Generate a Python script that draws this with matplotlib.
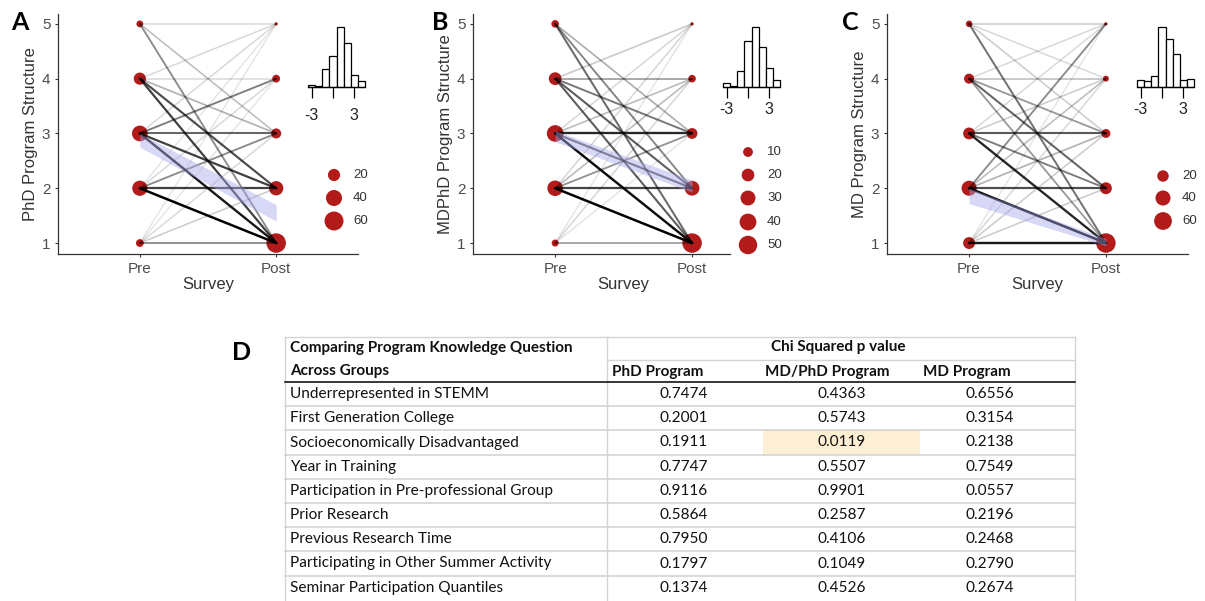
import numpy as np
import matplotlib
matplotlib.use("Agg")
from matplotlib import pyplot as plt

W, H = 1205, 601

# survey answer levels (1-5) and how many students sat on each level
levels = [1, 2, 3, 4, 5]
survey_labels = ["Pre", "Post"]

phd_pre = [6, 35, 38, 20, 4]
phd_post = [64, 30, 12, 6, 1]
mdphd_pre = [4, 33, 39, 20, 5]
mdphd_post = [57, 29, 13, 5, 1]
md_pre = [22, 40, 22, 14, 4]
md_post = [75, 22, 10, 3, 1]

# pre -> post transitions and how many students made each one
phd_from = [5, 5, 5, 4, 4, 4, 4, 4, 3, 3, 3, 3, 3, 2, 2, 2, 2, 2, 1, 1, 1, 1, 1]
phd_to = [5, 3, 1, 5, 4, 3, 2, 1, 5, 4, 3, 2, 1, 5, 4, 3, 2, 1, 5, 4, 3, 2, 1]
phd_n = [3, 5, 9, 3, 3, 6, 14, 15, 3, 10, 12, 15, 18, 2, 3, 9, 15, 20, 2, 2, 3, 4, 9]

mdphd_from = [5, 5, 5, 4, 4, 4, 4, 4, 3, 3, 3, 3, 3, 2, 2, 2, 2, 2, 1, 1, 1, 1]
mdphd_to = [3, 2, 1, 5, 4, 3, 2, 1, 5, 4, 3, 2, 1, 5, 4, 3, 2, 1, 5, 4, 3, 1]
mdphd_n = [6, 9, 11, 4, 7, 10, 12, 12, 3, 5, 16, 12, 18, 3, 5, 8, 14, 19, 2, 3, 2, 7]

md_from = [5, 5, 5, 5, 4, 4, 4, 4, 4, 3, 3, 3, 3, 3, 2, 2, 2, 2, 2, 1, 1, 1, 1, 1]
md_to = [5, 4, 3, 1, 5, 4, 3, 2, 1, 5, 4, 3, 2, 1, 5, 4, 3, 2, 1, 5, 4, 3, 2, 1]
md_n = [4, 3, 4, 11, 3, 5, 8, 12, 8, 3, 4, 13, 10, 17, 9, 5, 6, 14, 20, 2, 3, 4, 4, 18]

# linear fit confidence band (value at Pre, value at Post)
phd_fit_lo = [2.75, 1.40]
phd_fit_hi = [3.00, 1.70]
mdphd_fit_lo = [2.85, 1.93]
mdphd_fit_hi = [3.05, 2.15]
md_fit_lo = [1.72, 0.95]
md_fit_hi = [2.00, 1.08]

# inset histograms of the change scores
diff_bins = [-3, -2, -1, 0, 1, 2, 3, 4]
phd_diff = [2, 1, 15, 26, 51, 37, 10, 5]
mdphd_diff = [3, 1, 14, 39, 51, 34, 16, 6]
md_diff = [6, 5, 9, 51, 41, 28, 6, 7]

phd_breaks = [20, 40, 60]
mdphd_breaks = [10, 20, 30, 40, 50]
md_breaks = [20, 40, 60]

# table D
table_rows = [
    "Underrepresented in STEMM",
    "First Generation College",
    "Socioeconomically Disadvantaged",
    "Year in Training",
    "Participation in Pre-professional Group",
    "Prior Research",
    "Previous Research Time",
    "Participating in Other Summer Activity",
    "Seminar Participation Quantiles",
]
phd_p = [0.7474, 0.2001, 0.1911, 0.7747, 0.9116, 0.5864, 0.7950, 0.1797, 0.1374]
mdphd_p = [0.4363, 0.5743, 0.0119, 0.5507, 0.9901, 0.2587, 0.4106, 0.1049, 0.4526]
md_p = [0.6556, 0.3154, 0.2138, 0.7549, 0.0557, 0.2196, 0.2468, 0.2790, 0.2674]

RED = "#B31B1B"
GG_FONT = ["Liberation Sans", "DejaVu Sans"]
TAB_FONT = ["Lato", "DejaVu Sans"]


def px_box(x0, y0, x1, y1):
    return [x0 / W, 1 - y1 / H, (x1 - x0) / W, (y1 - y0) / H]


def dot_area(counts, cmin, cmax):
    # ggplot-like size scale: diameter grows with sqrt of the rescaled count
    c = np.asarray(counts, dtype=float)
    d_px = 3.25 + 16.25 * np.sqrt(np.clip((c - cmin) / (cmax - cmin), 0, 1))
    return (d_px * 72 / 100) ** 2


fig = plt.figure(figsize=(W / 100, H / 100), dpi=100)
fig.patch.set_facecolor("white")

panels = [
    dict(pre=phd_pre, post=phd_post, t_from=phd_from, t_to=phd_to, t_n=phd_n,
         lo=phd_fit_lo, hi=phd_fit_hi, diff=phd_diff, breaks=phd_breaks,
         ylabel="PhD Program Structure", letter="A",
         ax_px=(58, 14, 358, 254), xmax=1.6, ins_px=(308, 27, 365, 87), ins_pad=7,
         leg_x=334, leg_y=[175, 198, 221], leg_tx=353, let_xy=(20, 22)),
    dict(pre=mdphd_pre, post=mdphd_post, t_from=mdphd_from, t_to=mdphd_to, t_n=mdphd_n,
         lo=mdphd_fit_lo, hi=mdphd_fit_hi, diff=mdphd_diff, breaks=mdphd_breaks,
         ylabel="MDPhD Program Structure", letter="B",
         ax_px=(473, 14, 730, 254), xmax=1.277, ins_px=(723, 27, 780, 87), ins_pad=3,
         leg_x=748, leg_y=[152, 175, 198, 222, 245], leg_tx=767, let_xy=(440, 22)),
    dict(pre=md_pre, post=md_post, t_from=md_from, t_to=md_to, t_n=md_n,
         lo=md_fit_lo, hi=md_fit_hi, diff=md_diff, breaks=md_breaks,
         ylabel="MD Program Structure", letter="C",
         ax_px=(887, 14, 1188, 254), xmax=1.6, ins_px=(1137, 27, 1194, 87), ins_pad=3,
         leg_x=1163, leg_y=[176, 198, 221], leg_tx=1182, let_xy=(850, 22)),
]

overlay_jobs = []
for p in panels:
    ax = fig.add_axes(px_box(*p["ax_px"]))
    ax.set_xlim(-0.6, p["xmax"])
    ax.set_ylim(0.8, 5.18)

    cmin = min(p["pre"] + p["post"])
    cmax = max(p["pre"] + p["post"])

    ax.scatter(np.zeros(len(levels)), levels, s=dot_area(p["pre"], cmin, cmax),
               color=RED, lw=0, zorder=2)
    ax.scatter(np.ones(len(levels)), levels, s=dot_area(p["post"], cmin, cmax),
               color=RED, lw=0, zorder=2)

    nmax = max(p["t_n"])
    for f, t, n in zip(p["t_from"], p["t_to"], p["t_n"]):
        w = n / nmax
        ax.plot([0, 1], [f, t], color="black", alpha=w, lw=1.0 + 0.8 * w,
                solid_capstyle="round", zorder=3)

    ax.fill_between([0, 1], p["lo"], p["hi"], color="#A8A8EC", alpha=0.45,
                    lw=0, zorder=4)

    for side in ["top", "right"]:
        ax.spines[side].set_visible(False)
    for side in ["left", "bottom"]:
        ax.spines[side].set_color("#333333")
        ax.spines[side].set_linewidth(0.9)
    ax.set_xticks([0, 1])
    ax.set_xticklabels(survey_labels)
    ax.set_yticks(levels)
    ax.tick_params(colors="#333333", labelcolor="#4D4D4D", labelsize=11,
                   length=2.5, width=0.8, pad=3)
    for lab in ax.get_xticklabels() + ax.get_yticklabels():
        lab.set_family(GG_FONT)
    ax.set_ylabel(p["ylabel"], fontsize=12, color="#333333", family=GG_FONT,
                  labelpad=3)
    ax.set_xlabel("Survey", fontsize=12, color="#333333", family=GG_FONT)
    ax.xaxis.set_label_coords((0.5 + 0.6) / (p["xmax"] + 0.6), -0.095)

    # change-score histogram inset
    ins = fig.add_axes(px_box(*p["ins_px"]))
    ins.bar(diff_bins, p["diff"], width=1, color="white", edgecolor="black",
            lw=0.9, clip_on=False)
    ins.set_xlim(-3.5, 4.5)
    ins.set_ylim(0, max(p["diff"]))
    ins.patch.set_alpha(0)
    for side in ["top", "right", "left"]:
        ins.spines[side].set_visible(False)
    ins.spines["bottom"].set_linewidth(0.9)
    ins.set_yticks([])
    ins.set_xticks([-3, 0, 3])
    ins.set_xticklabels(["-3", "", "3"])
    ins.tick_params(axis="x", length=8, width=0.9, pad=p["ins_pad"],
                    labelsize=11.5, labelcolor="#222222")
    for lab in ins.get_xticklabels():
        lab.set_family(GG_FONT)

    overlay_jobs.append((p, cmin, cmax))

# overlay in pixel coordinates for legends, panel letters and the table
ov = fig.add_axes([0, 0, 1, 1])
ov.set_xlim(0, W)
ov.set_ylim(H, 0)
ov.axis("off")

for p, cmin, cmax in overlay_jobs:
    ov.scatter([p["leg_x"]] * len(p["breaks"]), p["leg_y"],
               s=dot_area(p["breaks"], cmin, cmax), color=RED, lw=0)
    for b, y in zip(p["breaks"], p["leg_y"]):
        ov.text(p["leg_tx"], y, str(b), fontsize=9.5, color="#333333",
                family=GG_FONT, ha="left", va="center")
    ov.text(*p["let_xy"], p["letter"], fontsize=18, fontweight="bold",
            family=TAB_FONT, ha="center", va="center")

ov.text(242, 352, "D", fontsize=18, fontweight="bold", family=TAB_FONT,
        ha="center", va="center")

# table D
tx0, tsplit, tx1 = 285, 607, 1075
col_edges = [607, 763, 920, 1075]
top_y, mid_y, head_y = 337, 360, 382
row_h = 24.2
grid = "#D4D4D4"

# shade significant p values
for ci, col in enumerate([phd_p, mdphd_p, md_p]):
    for ri, v in enumerate(col):
        if v < 0.05:
            y0 = head_y + ri * row_h
            ov.fill_between([col_edges[ci], col_edges[ci + 1]], y0, y0 + row_h,
                            color="#FDEFD3", lw=0, zorder=0)

ov.plot([tx0, tx1], [top_y, top_y], color=grid, lw=1)
ov.plot([tsplit, tx1], [mid_y, mid_y], color=grid, lw=1)
for ri in range(1, len(table_rows)):
    y = head_y + ri * row_h
    ov.plot([tx0, tx1], [y, y], color=grid, lw=1.2)
for x in [tx0, tsplit, tx1]:
    ov.plot([x, x], [top_y, H], color=grid, lw=1)
ov.plot([tx0, tx1], [head_y, head_y], color="black", lw=1.1)

hdr = dict(fontsize=11, fontweight="bold", family=TAB_FONT, color="#111111",
           va="center")
ov.text(290, 348, "Comparing Program Knowledge Question", ha="left", **hdr)
ov.text(290, 371, "Across Groups", ha="left", **hdr)
ov.text(838, 347, "Chi Squared p value", ha="center", **hdr)
ov.text(612, 372, "PhD Program", ha="left", **hdr)
ov.text(765, 372, "MD/PhD Program", ha="left", **hdr)
ov.text(923, 372, "MD Program", ha="left", **hdr)

body = dict(fontsize=11.1, family=TAB_FONT, color="#111111", va="center")
for ri, name in enumerate(table_rows):
    y = head_y + (ri + 0.5) * row_h
    ov.text(290, y, name, ha="left", **body)
    ov.text(708, y, f"{phd_p[ri]:.4f}", ha="right", **body)
    ov.text(842, y, f"{mdphd_p[ri]:.4f}", ha="center", **body)
    ov.text(990, y, f"{md_p[ri]:.4f}", ha="center", **body)

fig.savefig("out.png", dpi=100)
